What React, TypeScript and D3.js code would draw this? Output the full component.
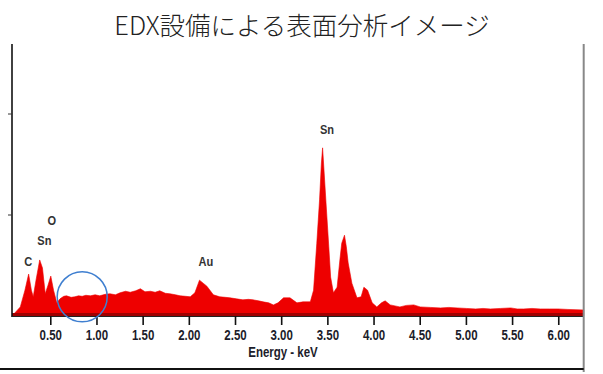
import React, { useEffect, useRef } from 'react';
import * as d3 from 'd3';

// spectrum (energy in keV, counts)
const energy = [
  0.08, 0.11, 0.17, 0.22, 0.26, 0.29, 0.31, 0.34, 0.38, 0.41, 0.44, 0.47, 0.50, 0.53, 0.565,
  0.60, 0.64, 0.67, 0.72, 0.76, 0.80, 0.84, 0.88, 0.93, 0.98, 1.03, 1.09, 1.14, 1.20, 1.25,
  1.31, 1.36, 1.42, 1.47, 1.52, 1.58, 1.63, 1.68, 1.74, 1.79, 1.85, 1.90, 1.96, 2.01,
  2.06, 2.11, 2.15, 2.19, 2.26, 2.33, 2.39, 2.44, 2.51, 2.58, 2.64, 2.69, 2.75, 2.80, 2.86, 2.91, 2.96, 3.02, 3.09, 3.165,
  3.23, 3.31, 3.345, 3.38, 3.41, 3.43, 3.443, 3.46, 3.48, 3.51, 3.53, 3.56, 3.60, 3.63, 3.65,
  3.68, 3.70, 3.72, 3.76, 3.815, 3.86, 3.89, 3.93, 3.98, 4.03, 4.08, 4.12, 4.175, 4.28, 4.35, 4.43,
  4.50, 4.61, 4.72, 4.81, 4.90, 5.00, 5.10, 5.18, 5.26, 5.37, 5.48, 5.55, 5.62, 5.71, 5.80, 5.90, 5.99, 6.10, 6.27,
];
const counts = [
  0, 30, 90, 255, 415, 255, 190, 355, 555, 475, 220, 305, 395, 255, 130,
  170, 195, 200, 185, 190, 200, 195, 205, 200, 210, 200, 215, 220, 210, 230,
  245, 235, 250, 270, 240, 245, 235, 250, 225, 220, 210, 200, 195, 190,
  230, 355, 325, 295, 210, 190, 185, 180, 170, 160, 165, 160, 150, 140, 130, 110, 130, 180, 180, 130,
  140, 140, 255, 720, 1150, 1515, 1665, 1415, 1120, 685, 385, 230, 285, 555, 720,
  800, 685, 525, 325, 180, 190, 285, 255, 130, 90, 130, 150, 110, 90, 105, 110,
  90, 85, 80, 85, 80, 75, 70, 75, 70, 75, 80, 70, 70, 75, 70, 70, 70, 65, 60,
];

const xTicks = [0.5, 1.0, 1.5, 2.0, 2.5, 3.0, 3.5, 4.0, 4.5, 5.0, 5.5, 6.0];
const yTicks = [1000, 2000];

const peakLabels = ['C', 'Sn', 'O', 'Au', 'Sn'];
const peakEnergy = [0.255, 0.43, 0.51, 2.18, 3.49];
const peakCounts = [500, 700, 900, 500, 1800];

const title = 'EDX設備による表面分析イメージ';

const W = 603;
const H = 374;

const App: React.FC = () => {
  const svgRef = useRef<SVGSVGElement>(null);

  useEffect(() => {
    if (!svgRef.current) return;
    const svg = d3.select(svgRef.current);
    svg.selectAll('*').remove();

    const left = 12;
    const right = 583.7;
    const base = 316;
    const top = 44;
    const squeeze = 0.82; // narrow bold look of the original labels

    const x = d3.scaleLinear().domain([0.08, 6.27]).range([left, right]);
    const y = d3.scaleLinear().domain([0, 2700]).range([base, top - 0.7]);

    const labelFont = '"Liberation Sans", Arial, sans-serif';

    // title
    svg.append('text')
      .attr('x', 302)
      .attr('y', 35)
      .attr('text-anchor', 'middle')
      .style('font-family', '"Noto Sans CJK JP", sans-serif')
      .style('font-weight', 300)
      .style('font-size', '25.5px')
      .style('fill', '#222')
      .text(title);

    // spectrum
    const data = energy.map((e, i) => ({ e, c: counts[i] }));
    const area = d3.area<{ e: number; c: number }>()
      .x(d => x(d.e))
      .y0(base)
      .y1(d => y(d.c))
      .curve(d3.curveLinear);

    svg.append('path')
      .attr('d', area(data) || '')
      .style('fill', '#ee0000')
      .style('stroke', '#ee0000')
      .style('stroke-width', 0.6);

    // dark band along the baseline
    svg.append('line')
      .attr('x1', left).attr('x2', right)
      .attr('y1', base - 1.5).attr('y2', base - 1.5)
      .style('stroke', '#a00000')
      .style('stroke-width', 3);

    // left axis
    svg.append('line')
      .attr('x1', left).attr('x2', left)
      .attr('y1', top).attr('y2', base + 1)
      .style('stroke', '#111')
      .style('stroke-width', 1.6);

    svg.selectAll('.ytick')
      .data(yTicks)
      .enter().append('line')
      .attr('x1', left - 4).attr('x2', left)
      .attr('y1', d => y(d)).attr('y2', d => y(d))
      .style('stroke', '#333')
      .style('stroke-width', 1);

    // bottom axis line
    svg.append('line')
      .attr('x1', left).attr('x2', right)
      .attr('y1', base + 0.5).attr('y2', base + 0.5)
      .style('stroke', '#222')
      .style('stroke-width', 1);

    // x ticks and labels
    const xt = svg.selectAll('.xtick')
      .data(xTicks)
      .enter().append('g')
      .attr('transform', d => `translate(${x(d)},0)`);

    xt.append('line')
      .attr('y1', base).attr('y2', base + 9)
      .style('stroke', '#111')
      .style('stroke-width', 1.6);

    xt.append('text')
      .attr('transform', `translate(0,${base + 24}) scale(${squeeze},1)`)
      .attr('text-anchor', 'middle')
      .style('font-family', labelFont)
      .style('font-weight', 'bold')
      .style('font-size', '14px')
      .style('fill', '#1c1c2a')
      .text(d => d.toFixed(2));

    svg.append('text')
      .attr('transform', `translate(283,357) scale(${squeeze},1)`)
      .attr('text-anchor', 'middle')
      .style('font-family', labelFont)
      .style('font-weight', 'bold')
      .style('font-size', '14px')
      .style('fill', '#1c1c2a')
      .text('Energy - keV');

    // peak labels
    svg.selectAll('.peak')
      .data(peakLabels)
      .enter().append('text')
      .attr('transform', (d, i) => `translate(${x(peakEnergy[i])},${y(peakCounts[i])}) scale(${squeeze},1)`)
      .attr('text-anchor', 'middle')
      .style('font-family', labelFont)
      .style('font-weight', 'bold')
      .style('font-size', '13.5px')
      .style('fill', '#333')
      .text(d => d);

    // highlight circle
    svg.append('circle')
      .attr('cx', x(0.84))
      .attr('cy', y(190))
      .attr('r', 25)
      .style('fill', 'none')
      .style('stroke', '#3f7fd0')
      .style('stroke-width', 1.5);

    // frame: right edge and bottom rule
    svg.append('line')
      .attr('x1', right).attr('x2', right)
      .attr('y1', top).attr('y2', 372)
      .style('stroke', '#888')
      .style('stroke-width', 2);

    svg.append('line')
      .attr('x1', 0).attr('x2', right)
      .attr('y1', 369).attr('y2', 369)
      .style('stroke', '#111')
      .style('stroke-width', 2);
  }, []);

  return (
    <div style={{ position: 'absolute', left: 0, top: 0, width: W, height: H, background: '#fff' }}>
      <svg ref={svgRef} width={W} height={H} style={{ display: 'block' }} />
    </div>
  );
};

export default App;
